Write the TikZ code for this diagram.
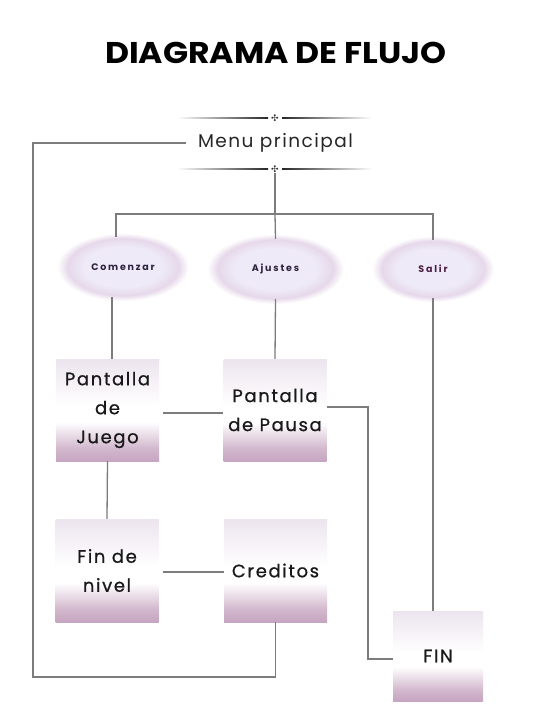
\documentclass[tikz,border=0pt]{standalone}
\usepackage{fontspec}
\setmainfont{Poppins}
\newfontfamily\boxfont[LetterSpace=9,FakeBold=0.8]{Poppins}
\newfontfamily\ellfont[LetterSpace=19]{Poppins}
\newfontfamily\menufont[LetterSpace=8]{Poppins}
\newfontfamily\ornfont{DejaVu Sans}
\usetikzlibrary{shapes.geometric,positioning}
\definecolor{linegray}{HTML}{7C7C7C}
\definecolor{boxtop}{HTML}{ECE4EE}
\definecolor{boxbot}{HTML}{C6A5C0}
\definecolor{ellin}{HTML}{EEEAF7}
\definecolor{ellout}{HTML}{E6D8EA}
\definecolor{elltext}{HTML}{2B2340}
\definecolor{salirtext}{HTML}{4B1F45}
\pgfdeclareradialshading{ellsh}{\pgfpoint{0bp}{0bp}}{color(0bp)=(ellin); color(15bp)=(ellin); color(21bp)=(ellout); color(25bp)=(white); color(50bp)=(white)}
\pgfdeclareverticalshading{boxsh}{100bp}{color(0bp)=(boxbot); color(25bp)=(boxbot); color(31bp)=(boxbot!80!white); color(44bp)=(white); color(52bp)=(white); color(75bp)=(boxtop); color(100bp)=(boxtop)}
\tikzset{
  x=1pt, y=-1pt,
  conn/.style={draw=linegray, line width=1.3pt},
  boxnode/.style={shading=boxsh,
    minimum width=103pt, minimum height=102pt, inner sep=0pt, align=center,
    font=\boxfont\fontsize{18}{29}\selectfont, text=black!90},
  ellnode/.style={ellipse, shading=ellsh,
    minimum width=132pt, minimum height=68pt, inner sep=0pt,
    font=\ellfont\bfseries\fontsize{9.5}{10}\selectfont, text=elltext},
  ornline/.style={shading=axis, left color=white, right color=black!85},
  ornliner/.style={shading=axis, left color=black!85, right color=white},
}
\begin{document}
\begin{tikzpicture}
\useasboundingbox (0,0) rectangle (551,722);
\fill[white] (0,0) rectangle (551,722);

% title
\node (title) at (276,53) {\bfseries\fontsize{30}{36}\selectfont\scalebox{1.1}[1]{DIAGRAMA DE FLUJO}};

% menu ornaments
\shade[ornline] (177,117.3) rectangle (268,118.7);
\shade[ornliner] (282,117.3) rectangle (372,118.7);
\node[inner sep=0pt, font=\ornfont\fontsize{9}{9}\selectfont, text=black!80] (ornt) at (275,118) {✣};
\shade[ornline] (177,168.3) rectangle (268,169.7);
\shade[ornliner] (282,168.3) rectangle (372,169.7);
\node[inner sep=0pt, font=\ornfont\fontsize{9}{9}\selectfont, text=black!80] (ornb) at (275,169) {✣};
\node[inner sep=0pt, font=\menufont\fontsize{18.5}{20}\selectfont, text=black!85] (menu) at (275.5,143) {Menu principal};

% ellipses
\node[ellnode] (comenzar) at (123,267) {Comenzar};
\node[ellnode, minimum width=137pt, minimum height=70pt] (ajustes) at (275.5,269) {Ajustes};
\node[ellnode, minimum width=122pt, minimum height=66pt, text=salirtext] (salir) at (433,269) {Salir};

% boxes
\node[boxnode] (juego) at (107.5,410) {Pantalla\\de\\Juego};
\node[boxnode] (pausa) at (275,410) {Pantalla\\de Pausa};
\node[boxnode, minimum height=103pt] (finnivel) at (107,570.5) {Fin de\\nivel};
\node[boxnode, minimum height=103pt] (creditos) at (275.5,570.5) {Creditos};
\node[boxnode, minimum width=90pt, minimum height=90pt] (fin) at (438,656) {FIN};

% connector coordinates
\coordinate (bus) at (275,214);
\coordinate (lefttop) at (33,143);
\coordinate (leftbot) at (33,677);
\coordinate (pausaR) at (368,407);
\coordinate (finL) at (368,659);

% connectors
\draw[conn] ([xshift=-12pt]menu.west) -- (lefttop) -- (leftbot) -| (creditos.south);
\draw[conn] (ornb.south) -- (bus);
\draw[conn] ([xshift=-7pt,yshift=-4pt]comenzar.north) |- (bus) -| ([yshift=-4pt]salir.north);
\draw[conn] (bus) -- ([yshift=-5pt]ajustes.north);
\draw[conn] ([xshift=-11pt,yshift=4pt]comenzar.south) -- ([xshift=-11pt]comenzar.south |- juego.north);
\draw[conn] ([yshift=5pt]ajustes.south) -- (pausa.north);
\draw[conn] (juego.south) -- (finnivel.north);
\draw[conn] ([xshift=4pt,yshift=-3pt]juego.east) -- ([yshift=-3pt]pausa.west);
\draw[conn] ([xshift=4pt,yshift=-1.5pt]finnivel.east) -- ([yshift=-1.5pt]creditos.west);
\draw[conn] (pausa.east |- pausaR) -- (pausaR) -- (finL) -- (finL -| fin.west);
\draw[conn] ([yshift=4pt]salir.south) -- (salir.south |- fin.north);
\end{tikzpicture}
\end{document}
